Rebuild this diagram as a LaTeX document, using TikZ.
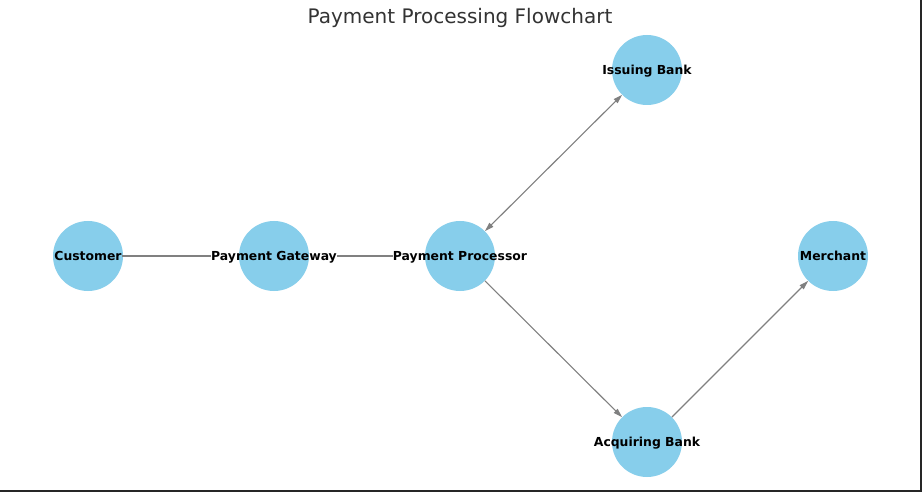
\documentclass[tikz,border=0pt]{standalone}
\usepackage{fontspec}
\setmainfont{DejaVu Sans}
\usetikzlibrary{arrows.meta}
\definecolor{skyblue}{HTML}{87CEEB}
\definecolor{linkgray}{HTML}{808080}
\definecolor{titlegray}{HTML}{333333}
\begin{document}
\begin{tikzpicture}[x=1pt,y=-1pt,
    station/.style={circle, fill=skyblue, minimum size=70pt, inner sep=0pt},
    caption/.style={font=\fontsize{12.4}{15}\selectfont\bfseries, inner sep=0pt, anchor=base},
    link/.style={draw=linkgray, line width=1.1pt},
    tip/.style={-{Triangle[length=9pt,width=5.5pt]}}]
	\useasboundingbox (0,0) rectangle (922,492);
	\fill[white] (0,0) rectangle (922,492);

	\node[anchor=base, text=titlegray, font=\fontsize{20}{24}\selectfont] (title) at (460,24) {Payment Processing Flowchart};

	\foreach \n/\x/\y/\t in {cust/88/256/Customer, gate/274/256/Payment Gateway,
	    proc/460/256/Payment Processor, issue/647/70/Issuing Bank,
	    acq/647/442/Acquiring Bank, merch/833/256/Merchant}
	    {
		  \node[station] (\n) at (\x,\y) {};
		  \node[caption] (\n-t) at (\x,\y+4.5) {\t};
	    }

	  \draw [link] (cust-t.east |- cust) -- (gate-t.west |- gate);
	  \draw [link] (gate-t.east |- gate) -- (proc-t.west |- proc);
	  \draw [link, {Triangle[length=9pt,width=5.5pt]}-{Triangle[length=9pt,width=5.5pt]}] (proc) -- (issue);
	  \draw [link, tip] (proc) -- (acq);
	  \draw [link, tip] (acq) -- (merch);

	% screenshot edge
	\fill[black!85] (920,0) rectangle (922,492);
	\fill[black!85] (0,490) rectangle (922,492);
    \end{tikzpicture}
\end{document}
